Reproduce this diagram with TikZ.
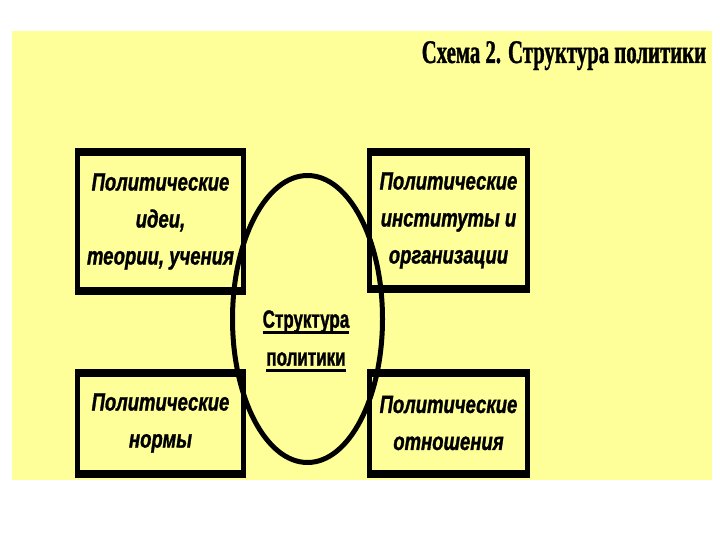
\documentclass[tikz,border=0pt]{standalone}
\usepackage{fontspec}
\setmainfont{Liberation Serif}
\newfontfamily\boxfont[FakeStretch=0.74,FakeBold=1.2]{Liberation Sans}
\newfontfamily\midfont[FakeStretch=0.68,FakeBold=1.2]{Liberation Sans}
\newfontfamily\headfont[FakeStretch=0.63,FakeBold=1]{Liberation Serif}
\usetikzlibrary{shapes.geometric}
\definecolor{paleyel}{HTML}{FFFF99}
\newcommand\ulin[1]{\setbox0\hbox{#1}\rlap{\rule[-6pt]{\wd0}{2.5pt}}\box0}

\begin{document}
\begin{tikzpicture}[x=1pt,y=-1pt]
  \tikzstyle{blok}=[rectangle,draw=black,line width=5pt,fill=paleyel,outer sep=0pt,inner sep=0pt,align=center,font=\boxfont\bfseries\itshape\fontsize{25}{37}\selectfont]
  \tikzstyle{blokedge}=[draw=black,line width=8pt,shorten <=-2.5pt,shorten >=-2.5pt]
  \tikzstyle{oval}=[ellipse,draw=black,line width=5pt,inner sep=0pt]

  \useasboundingbox (0,0) rectangle (720,540);
  \fill[paleyel] (12,31) rectangle (712,480);

  \node [font=\headfont\bfseries\fontsize{33}{33}\selectfont, anchor=base] (head) at (564,63) {Схема 2. Структура политики};

  \node [blok, minimum width=166pt, minimum height=139pt] (ideas) at (160.5,221.5) {Политические\\идеи,\\теории, учения};
  \node [blok, minimum width=158pt, minimum height=137pt] (inst)  at (448.5,220.5) {Политические\\институты и\\организации};
  \node [blok, minimum width=166pt, minimum height=101pt] (norms) at (160.5,423) {Политические\\нормы};
  \node [blok, minimum width=158pt, minimum height=101pt] (rel)   at (448.5,423) {Политические\\отношения};

  \foreach \b in {ideas,inst,norms,rel} {
    \draw[blokedge] (\b.north west) -- (\b.north east);
    \draw[blokedge] (\b.south west) -- (\b.south east);
  }

  \node [oval, minimum width=150pt, minimum height=287pt] (ring) at (307.5,319) {};
  \node [font=\midfont\bfseries\fontsize{25}{38}\selectfont, align=center] (core) at (306,341) {\ulin{Структура}\\\ulin{политики}};
\end{tikzpicture}
\end{document}
